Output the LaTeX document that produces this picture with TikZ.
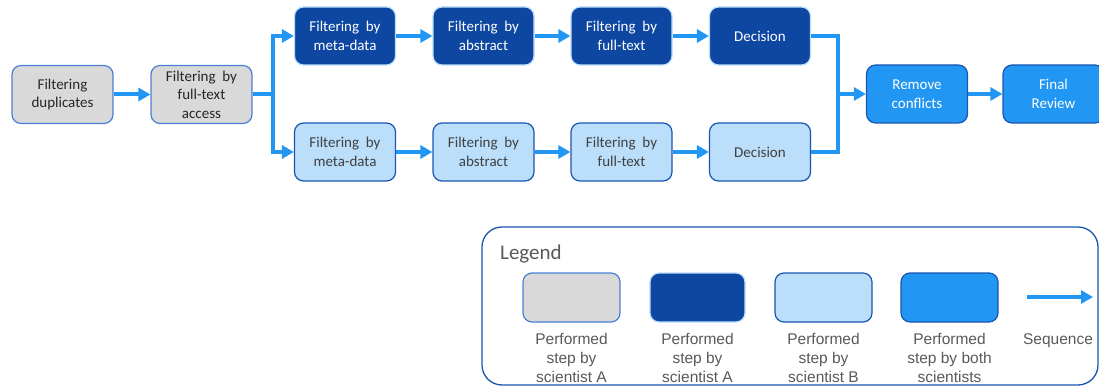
\documentclass[tikz,border=0pt]{standalone}
\usepackage{fontspec}
\setmainfont{Carlito}
\newfontfamily\arialf{Liberation Sans}
\usetikzlibrary{arrows.meta}
\definecolor{arrblue}{HTML}{2196F3}
\definecolor{darkfill}{HTML}{0D47A1}
\definecolor{lightfill}{HTML}{BBDEFB}
\definecolor{grayfill}{HTML}{D9D9D9}
\definecolor{grayedge}{HTML}{4A7FD6}
\definecolor{darkedge}{HTML}{1A55B0}
\definecolor{txtdark}{HTML}{262626}
\definecolor{txtgray}{HTML}{404040}
\definecolor{legtxt}{HTML}{595959}
\tikzset{
  box/.style={rounded corners=9pt, minimum width=101pt, minimum height=58pt, inner sep=0pt, align=center, line width=1.2pt, font=\fontsize{15}{18.5}\selectfont},
  grayA/.style={box, fill=grayfill, draw=grayedge, text=txtdark},
  darkA/.style={box, fill=darkfill, draw=lightfill, text=white},
  lightB/.style={box, fill=lightfill, draw=darkedge, text=txtgray},
  both/.style={box, fill=arrblue, draw=darkedge, text=white},
  lbox/.style={rounded corners=9pt, minimum height=49pt, inner sep=0pt, line width=1.2pt},
  conn/.style={draw=arrblue, line width=4pt},
  arr/.style={conn, -{Triangle[length=12pt,width=13pt]}},
  ltext/.style={align=center, text=legtxt, inner sep=0pt, font=\arialf\fontsize{15.5}{18.8}\selectfont},
}
\begin{document}
\begin{tikzpicture}[x=1pt,y=-1pt]
\useasboundingbox (0,0) rectangle (1099,387);
% main nodes
\node[grayA] (dup) at (62.5,94.5) {Filtering\\duplicates};
\node[grayA] (acc) at (201.5,94.5) {Filtering\ \ by\\full-text\\access};
\node[darkA] (a1) at (345,36) {Filtering\ \ by\\meta-data};
\node[darkA] (a2) at (483.5,36) {Filtering\ \ by\\abstract};
\node[darkA] (a3) at (621.5,36) {Filtering\ \ by\\full-text};
\node[darkA] (a4) at (760,36) {Decision};
\node[lightB] (b1) at (345,152) {Filtering\ \ by\\meta-data};
\node[lightB] (b2) at (483.5,152) {Filtering\ \ by\\abstract};
\node[lightB] (b3) at (621.5,152) {Filtering\ \ by\\full-text};
\node[lightB] (b4) at (760,152) {Decision};
\node[both] (rc) at (917,94) {Remove\\conflicts};
\node[both] (fr) at (1053.5,94) {Final\\Review};
% connectors
\coordinate (j1) at (273,94.5);
\coordinate (j2) at (838,94);
\draw[arr] (dup) -- (acc);
\draw[conn] (acc.east) -- (j1);
\draw[arr] (j1) |- (a1.west);
\draw[arr] (j1) |- (b1.west);
\draw[arr] (a1) -- (a2);
\draw[arr] (a2) -- (a3);
\draw[arr] (a3) -- (a4);
\draw[arr] (b1) -- (b2);
\draw[arr] (b2) -- (b3);
\draw[arr] (b3) -- (b4);
\draw[conn] (a4.east) -| (j2);
\draw[conn] (b4.east) -| (j2);
\draw[arr] (j2) -- (rc.west);
\draw[arr] (rc) -- (fr);
% legend
\draw[draw=darkedge, line width=1.3pt, rounded corners=20pt] (482,227) rectangle (1098,385);
\node[anchor=base west, inner sep=0pt, text=legtxt, font=\fontsize{21}{24}\selectfont] (lg) at (500,259) {Legend};
\node[lbox, minimum width=97pt, fill=grayfill, draw=grayedge] (l1) at (571.5,297.5) {};
\node[lbox, minimum width=95pt, fill=darkfill, draw=lightfill] (l2) at (697.5,297.5) {};
\node[lbox, minimum width=97pt, fill=lightfill, draw=darkedge] (l3) at (823.5,297.5) {};
\node[lbox, minimum width=97pt, fill=arrblue, draw=darkedge] (l4) at (949.5,297.5) {};
\node[ltext, anchor=north] (t1) at (571.5,333.5) {Performed\\step by\\scientist A};
\node[ltext, anchor=north] (t2) at (697.5,333.5) {Performed\\step by\\scientist A};
\node[ltext, anchor=north] (t3) at (823.5,333.5) {Performed\\step by\\scientist B};
\node[ltext, anchor=north] (t4) at (949.5,333.5) {Performed\\step by both\\scientists};
\coordinate (sa) at (1027,297);
\coordinate (sb) at (1093,297);
\draw[arr] (sa) -- (sb);
\node[ltext, anchor=north] (t5) at (1058,333.5) {Sequence};
\end{tikzpicture}
\end{document}
